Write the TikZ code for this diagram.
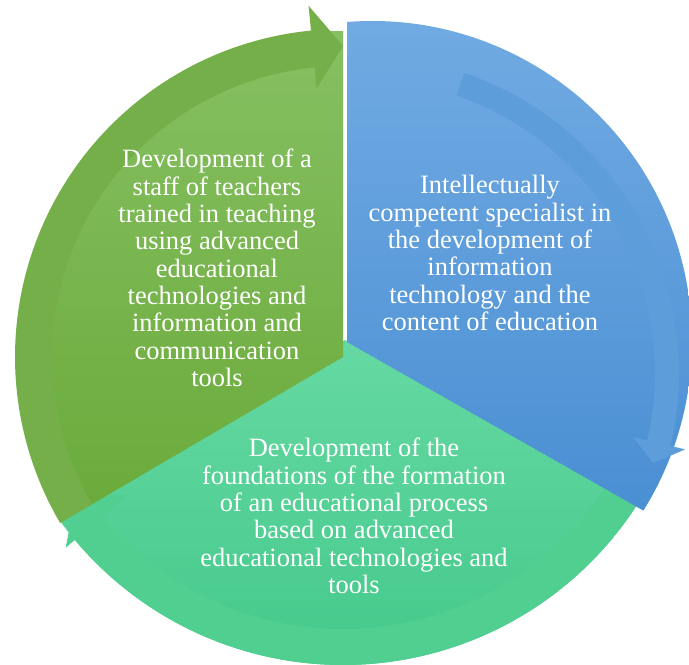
\documentclass[tikz,border=0pt]{standalone}
\usepackage{fontspec}
\setmainfont{Liberation Serif}
\usepackage{tikz}
\definecolor{blueTop}{HTML}{72ABE3}
\definecolor{blueBottom}{HTML}{4A8FD3}
\definecolor{blueBand}{HTML}{5C9DDA}
\definecolor{greenTop}{HTML}{86C062}
\definecolor{greenBottom}{HTML}{6AAA3A}
\definecolor{greenBand}{HTML}{74AF4A}
\definecolor{tealTop}{HTML}{66D9A3}
\definecolor{tealBottom}{HTML}{43C88A}
\definecolor{tealBand}{HTML}{51CF91}
\tikzset{%
  % Specifications for style of segments and texts:
        base/.style = {text=white, align=center, inner sep=0pt,
                       font=\fontsize{22.6}{23.3}\selectfont},
   blueWedge/.style = {top color=blueTop, bottom color=blueBottom},
  greenWedge/.style = {top color=greenTop, bottom color=greenBottom},
   tealWedge/.style = {top color=tealTop, bottom color=tealBottom},
   blueArrow/.style = {fill=blueBand},
  greenArrow/.style = {fill=greenBand},
   tealArrow/.style = {fill=tealBand},
}

\begin{document}
\begin{tikzpicture}[x=0.03cm, y=0.03cm]
  \useasboundingbox (0,0) rectangle (689,665);

  % bottom segment
  \begin{scope}[shift={(343,350)}]
    \path[tealWedge] (2,-25) -- (215.8:350)
      arc[start angle=215.8, end angle=327, radius=350] -- cycle;
    \path[tealArrow] (-28:314) arc[start angle=-28, end angle=-140, radius=314]
      -- (-140:280) -- (-146:322) -- (-140:362) -- (-140:350)
      arc[start angle=-140, end angle=-28, radius=350] -- cycle;
  \end{scope}

  % left segment
  \begin{scope}[shift={(343,308)}]
    \path[greenWedge] (0,0) -- (90:326)
      arc[start angle=90, end angle=210.4, radius=326] -- cycle;
    \path[greenArrow] (210.4:291) arc[start angle=210.4, end angle=95.6, radius=291]
      -- (95.6:270) -- (90:311) -- (95.6:353) -- (95.6:328)
      arc[start angle=95.6, end angle=210.4, radius=328] -- cycle;
  \end{scope}

  % right segment
  \begin{scope}[shift={(372,324)}]
    \path[blueWedge] (-25,-1) -- (-25,319)
      arc[start angle=94.48, end angle=-32, radius=320] -- cycle;
  \end{scope}
  \begin{scope}[shift={(362,292)}]
    \path[blueArrow] (71.2:293) arc[start angle=71.2, end angle=-13.3, radius=293]
      -- (-13.3:279) -- (-17.2:305) -- (-13.3:332) -- (-13.3:317)
      arc[start angle=-13.3, end angle=71.2, radius=317] -- cycle;
  \end{scope}

  \node (staffText) [base] at (217,397) {Development of a\\staff of teachers\\trained in teaching\\using advanced\\educational\\technologies and\\information and\\communication\\tools};
  \node (specialistText) [base] at (490,412) {Intellectually\\competent specialist in\\the development of\\information\\technology and the\\content of education};
  \node (processText) [base] at (354,149) {Development of the\\foundations of the formation\\of an educational process\\based on advanced\\educational technologies and\\tools};
\end{tikzpicture}
\end{document}
